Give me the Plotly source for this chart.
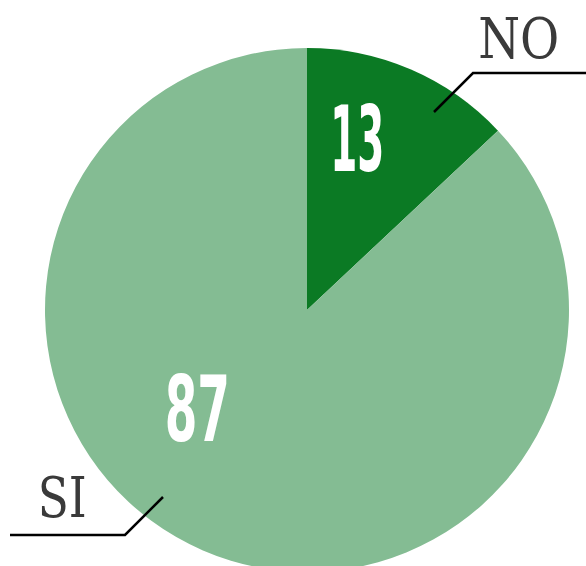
import plotly.graph_objects as go

labels = ["NO", "SI"]
values = [13, 87]
colors = ["#0b7a24", "#84bc93"]

W, H = 586, 580
cx, cy, R = 307, 310, 262  # pixel geometry of pie (from top)

fig = go.Figure(go.Pie(
    labels=labels, values=values, sort=False, direction="clockwise", rotation=0,
    marker=dict(colors=colors, line=dict(width=0)),
    textinfo="none", hoverinfo="none",
    domain=dict(x=[(cx - R) / W, (cx + R) / W],
                y=[(H - cy - R) / H, (H - cy + R) / H]),
    showlegend=False,
))

def px(x):
    return x / W

def py(y):
    return 1 - y / H

num_font = dict(family="DejaVu Sans Condensed", size=90, color="white")
lab_font = dict(family="DejaVu Serif Condensed", size=56, color="#3a3a3a")

anns = [
    dict(x=px(357), y=py(139), text=f"<b>{values[0]}</b>", font=num_font),
    dict(x=px(197), y=py(409), text=f"<b>{values[1]}</b>", font=num_font),
    dict(x=px(518), y=py(38), text=labels[0], font=lab_font),
    dict(x=px(62), y=py(497), text=labels[1], font=lab_font),
]
for a in anns:
    a.update(xref="paper", yref="paper", showarrow=False, xanchor="center", yanchor="middle")

line = dict(color="black", width=2.5)
shapes = [
    dict(type="path", path=f"M {px(434)} {py(112)} L {px(473)} {py(73)} L {px(586)} {py(73)}",
         xref="paper", yref="paper", line=line),
    dict(type="path", path=f"M {px(163)} {py(497)} L {px(125)} {py(535)} L {px(10)} {py(535)}",
         xref="paper", yref="paper", line=line),
]

fig.update_layout(width=W, height=H, margin=dict(l=0, r=0, t=0, b=0),
                  paper_bgcolor="white", plot_bgcolor="white",
                  annotations=anns, shapes=shapes)

post = """
document.body.style.margin='0';
document.body.style.overflow='hidden';
var sx = {'13': 0.48, '87': 0.58, 'NO': 0.95, 'SI': 0.9};
document.querySelectorAll('text.annotation-text').forEach(function(t){
  var k = t.textContent.trim();
  if (sx[k] !== undefined) {
    t.style.transformBox = 'fill-box';
    t.style.transformOrigin = 'center';
    t.style.transform = 'scaleX(' + sx[k] + ')';
  }
});
"""
fig.write_html("out.html", post_script=post, config={"displayModeBar": False})
